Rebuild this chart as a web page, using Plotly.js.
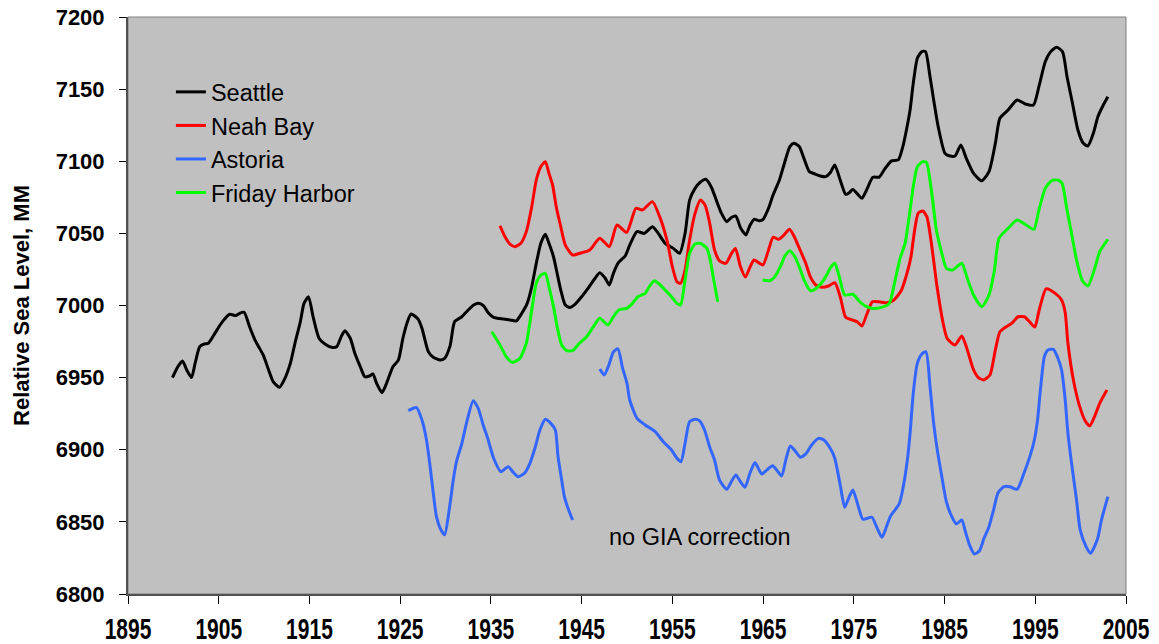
<!DOCTYPE html>
<html>
<head>
<meta charset="utf-8">
<script src="https://cdn.plot.ly/plotly-3.0.1.min.js"></script>
<style>html,body{margin:0;padding:0;background:#fff;}#chart{width:1159px;height:644px;}</style>
</head>
<body>
<div id="chart"></div>
<script>
// ---- Data ----
const seattleYears = [1899.9,1900.5,1901.0,1901.5,1902.0,1902.4,1902.9,1903.4,1903.85,1904.4,1905.0,1905.5,1906.2,1906.9,1907.3,1907.8,1908.4,1909.0,1909.4,1909.9,1910.5,1911.0,1911.7,1912.3,1912.9,1913.4,1914.0,1914.4,1914.9,1915.4,1916.05,1916.7,1917.45,1918.0,1918.5,1918.9,1919.5,1920.0,1920.6,1921.1,1921.6,1922.0,1922.4,1923.0,1923.5,1924.2,1924.8,1925.3,1925.8,1926.2,1927.0,1927.4,1928.1,1928.65,1929.4,1929.9,1930.5,1931.0,1931.8,1932.5,1933.1,1933.6,1934.2,1934.7,1935.3,1936.4,1937.1,1937.8,1938.4,1939.0,1939.5,1940.0,1940.5,1941.0,1941.4,1941.9,1942.3,1942.7,1943.2,1943.7,1944.3,1945.0,1945.7,1946.4,1947.0,1947.6,1948.05,1948.5,1949.05,1949.8,1950.3,1951.1,1951.9,1952.8,1953.45,1954.2,1955.1,1955.8,1956.4,1956.9,1957.5,1958.0,1958.7,1959.3,1959.9,1960.4,1961.0,1961.5,1962.0,1962.5,1963.1,1963.55,1964.0,1964.6,1965.0,1965.6,1966.1,1966.8,1967.4,1967.95,1968.4,1969.0,1969.5,1970.1,1970.7,1971.3,1971.9,1972.4,1972.9,1973.5,1974.1,1974.5,1974.9,1975.5,1975.9,1976.4,1977.1,1977.8,1978.4,1979.15,1979.9,1980.4,1980.8,1981.2,1981.55,1982.0,1982.5,1982.9,1983.4,1983.8,1984.3,1985.05,1985.6,1986.15,1986.8,1987.4,1988.2,1989.1,1989.9,1990.6,1991.1,1992.0,1993.0,1993.9,1994.8,1995.4,1996.1,1996.7,1997.35,1998.0,1998.5,1999.1,1999.7,2000.3,2000.8,2001.4,2001.9,2002.5,2003.0];
const seattleLevel = [6950,6957.6,6961.5,6955,6950,6960,6971.4,6973.3,6973.8,6978.9,6985,6989.5,6993.9,6993,6994.6,6995.3,6985.3,6976,6971.4,6965.7,6955.3,6947.2,6943.3,6949.5,6960,6973.8,6988.8,7001.5,7006,6992.2,6977.3,6973.3,6971,6971.4,6978.4,6982.5,6977.3,6966.9,6957.6,6950.6,6951.1,6952.5,6946.1,6939.6,6946.1,6957.6,6962.2,6977.3,6988.8,6994.1,6990.4,6984.2,6968,6964.1,6962.2,6963.4,6972,6988.8,6992.2,6996.9,7000.3,7001.5,6999.7,6995,6991.8,6990.6,6990,6989.3,6994.6,7001.5,7013,7029.2,7043.1,7049.4,7043.1,7033.8,7022.3,7010.7,7000.3,6998.7,7001,7006.1,7011.9,7018.2,7022.7,7018.9,7014.2,7022.3,7029.7,7034.3,7041.9,7051.2,7050,7054.6,7050,7043.1,7039.6,7036.2,7050,7073.1,7081.2,7085.1,7087.5,7082,7072,7064,7058.1,7061,7062,7054,7048.9,7055.5,7059.7,7058.8,7059.7,7067.4,7076.6,7087,7099.7,7110.1,7112.4,7110.1,7102,7092.8,7091.2,7089.8,7089.3,7092,7097.4,7087,7077.1,7078.2,7080.5,7076.6,7074.3,7080,7088.9,7089,7094.5,7100.3,7100.9,7110.1,7121.7,7135.5,7154,7171.4,7176,7176,7158.6,7142.5,7124,7105.5,7103.6,7103.6,7111.3,7102,7091.6,7086.5,7092.8,7112.4,7129.8,7135.5,7142.5,7139.7,7139,7151.7,7169,7176,7179,7176,7158.6,7140.2,7121.7,7112.4,7110.6,7119.4,7130.9,7139,7144.7];

const neahYears = [1936.0,1936.55,1937.1,1937.65,1938.3,1938.9,1939.5,1940.0,1940.5,1941.0,1941.4,1941.8,1942.2,1942.7,1943.2,1944.0,1945.0,1945.9,1947.0,1948.05,1948.9,1949.96,1950.99,1951.7,1952.8,1953.6,1954.4,1955.0,1955.5,1955.9,1956.4,1956.9,1957.5,1958.1,1958.6,1959.1,1959.65,1960.2,1960.9,1961.5,1961.95,1962.5,1963.05,1963.55,1964.0,1964.6,1965.0,1965.6,1966.1,1966.7,1967.3,1967.9,1968.4,1969.0,1969.7,1970.2,1970.8,1971.5,1972.2,1972.9,1973.5,1974.1,1974.8,1975.35,1975.9,1976.4,1977.05,1977.8,1978.6,1979.35,1980.2,1980.8,1981.3,1981.65,1982.1,1982.6,1983.05,1983.6,1984.15,1984.9,1985.3,1986.15,1986.9,1987.4,1988.2,1988.7,1989.3,1990.0,1990.6,1991.1,1991.7,1992.4,1993.1,1993.8,1994.4,1994.95,1995.4,1996.2,1997.2,1997.9,1998.3,1998.6,1999.2,1999.9,2000.5,2001.0,2001.6,2002.1,2002.9];
const neahLevel = [7055.3,7047.7,7042.6,7040.8,7043.1,7051.2,7068.5,7087,7096.2,7099.7,7091.6,7083.5,7068.5,7054.6,7041.9,7035,7036.6,7038.5,7046.6,7040.8,7055.8,7050.7,7067.4,7066.2,7072,7061.6,7045.4,7026.9,7016.5,7015.4,7024.6,7045.4,7063.9,7073.1,7069.7,7057.5,7038.5,7031,7029.3,7036,7039.6,7027,7019.7,7026.5,7031.5,7029.3,7028.1,7038.5,7047.3,7045.9,7048.9,7052.8,7048.2,7039.6,7029.3,7020,7014.2,7012.6,7013.5,7015.8,7006.1,6991.8,6990,6988.8,6985.8,6993.4,7002.6,7002.6,7001.9,7003.5,7010,7021,7033.8,7050,7064,7065.5,7061.6,7040.8,7014,6986,6977,6972.6,6978.9,6971.4,6955.3,6950.2,6948.4,6951.8,6969.2,6981.8,6984.9,6987.6,6992.2,6992.2,6988.5,6985,6996,7011.5,7008.4,7003.8,6995,6973.8,6948.4,6929.9,6920.1,6916.5,6924.1,6932.2,6941.4];

const astoriaYears = [1925.9,1926.8,1927.4,1927.9,1928.3,1928.65,1929.0,1929.5,1929.9,1930.4,1930.85,1931.2,1931.8,1932.3,1933.05,1933.6,1934.15,1934.7,1935.3,1936.1,1936.9,1937.5,1938.0,1938.75,1939.3,1939.85,1940.4,1941.0,1941.6,1942.1,1942.4,1942.8,1943.1,1943.5,1944.0,1945.5,1947.0,1947.5,1948.0,1948.5,1949.0,1949.5,1950.0,1950.3,1951.1,1952.0,1953.1,1954.0,1954.9,1955.5,1955.95,1956.4,1956.9,1957.5,1958.0,1958.55,1959.1,1959.65,1960.2,1961.0,1961.5,1962.0,1962.5,1963.0,1963.55,1964.1,1964.85,1965.4,1966.05,1966.5,1967.05,1967.5,1968.0,1968.6,1969.1,1969.7,1970.35,1971.1,1971.7,1972.4,1972.9,1973.5,1974.0,1974.5,1974.9,1975.5,1976.0,1977.0,1977.5,1978.1,1978.6,1979.05,1980.0,1980.45,1980.9,1981.2,1981.55,1982.0,1982.5,1982.95,1983.4,1983.8,1984.2,1984.7,1985.2,1985.8,1986.3,1986.9,1987.3,1987.75,1988.3,1988.85,1989.35,1989.9,1990.4,1990.9,1991.55,1992.2,1993.0,1993.75,1994.4,1994.9,1995.25,1995.6,1996.0,1996.4,1997.0,1997.5,1997.9,1998.3,1998.6,1999.1,1999.55,1999.95,2000.6,2001.1,2001.85,2002.3,2003.0];
const astoriaLevel = [6927.1,6929.2,6920.6,6906.8,6888.3,6869.8,6853.6,6844.4,6841,6858.2,6879,6891.7,6904.5,6918.3,6934,6928.7,6917.2,6906.8,6894.1,6884.8,6888.3,6884.1,6881.3,6884.1,6890.6,6901,6913.7,6921.1,6918.3,6913.7,6895.2,6879,6867.5,6859.4,6851.3,null,6956,6951.8,6958.7,6967.8,6970,6957,6946,6934.5,6921.8,6917.2,6912.5,6905.6,6899.8,6894.1,6891.7,6904.5,6919.5,6921.1,6920,6913.7,6902.1,6892.9,6879,6872.6,6877.9,6882.5,6877.9,6874,6883.7,6891.1,6883.2,6885.9,6888.9,6885.9,6881.8,6892.9,6902.6,6898.7,6894.8,6897.1,6903.3,6907.9,6906.8,6901,6894.1,6875.6,6860.1,6867.5,6872.1,6860.5,6851.8,6853.2,6846.7,6839.3,6846.7,6854.1,6862.4,6874.4,6892.9,6911.4,6939.1,6959.9,6966.4,6968,6943.7,6918.3,6899.8,6881.3,6864,6853.6,6848.5,6851.3,6843.2,6834,6827.7,6830,6838.6,6846.7,6858.2,6870.2,6874.4,6874.4,6872.6,6883.7,6895.2,6906.8,6920.6,6943.7,6964.5,6969.2,6969.6,6963.4,6955.3,6934.5,6911.4,6885.9,6865.2,6844.4,6832.8,6828.2,6837.9,6851.3,6867.5];

const fridayYears = [1935.1,1936.0,1936.7,1937.4,1938.2,1938.9,1939.5,1940.0,1940.5,1941.0,1941.4,1941.9,1942.3,1942.8,1943.35,1944.0,1944.75,1945.55,1946.3,1947.0,1947.9,1948.5,1949.1,1949.95,1950.6,1951.2,1952.0,1952.45,1953.0,1953.55,1954.2,1954.8,1955.5,1955.9,1956.4,1956.9,1957.5,1958.1,1958.8,1959.1,1959.5,1960.0,1962.5,1964.95,1965.75,1966.3,1966.9,1967.4,1967.95,1968.5,1969.05,1969.6,1970.2,1970.7,1971.35,1971.9,1972.5,1972.9,1973.4,1974.0,1974.9,1975.65,1976.4,1977.1,1978.05,1978.9,1979.5,1980.1,1980.65,1981.2,1981.55,1982.0,1982.6,1983.0,1983.6,1984.1,1984.7,1985.2,1985.9,1986.9,1987.5,1988.2,1989.1,1989.9,1990.5,1991.0,1992.0,1993.0,1994.0,1994.85,1995.4,1996.1,1996.8,1997.5,1997.95,1998.5,1999.0,1999.55,2000.2,2000.8,2001.5,2002.1,2003.0];
const fridayLevel = [6981.8,6972.6,6964.5,6960.5,6963.5,6973.8,6996.9,7015.4,7021.1,7022.3,7013,6999.2,6985.3,6972.6,6968.7,6968.7,6973.8,6978.4,6985.3,6991.1,6986.5,6992.2,6996.9,6998,7001.5,7006.1,7008.4,7013,7017.2,7014.9,7010.7,7006.8,7001.5,7000.3,7017.7,7036.2,7042.6,7043.1,7039.6,7033.8,7020,7002.6,null,7017.7,7017.2,7020,7026.9,7034.3,7038,7033.8,7025.8,7016.5,7010.3,7011.2,7014.9,7020,7026.9,7029.3,7020,7007.3,7007.8,7002.6,6999.2,6998,6998.7,7001.3,7016,7032.7,7043.1,7066.2,7082.4,7096.2,7099.7,7099.2,7077.5,7052.3,7036.2,7025.8,7024.6,7029.3,7018.9,7007.3,6999.2,7007.3,7024.6,7046.6,7053.5,7059.3,7055.8,7052.8,7066.2,7081.2,7086.5,7087,7084.7,7066.2,7050,7031.5,7017.2,7013.5,7024.6,7037.3,7045.9];

const seriesNames = ["Seattle", "Neah Bay", "Astoria", "Friday Harbor"];
const xTickVals = [1895,1905,1915,1925,1935,1945,1955,1965,1975,1985,1995,2005];
const yTickVals = [6800,6850,6900,6950,7000,7050,7100,7150,7200];
const noteText = "no GIA correction";
const noteYear = 1947.8, noteLevel = 6839.5;

// ---- Styling ----
const colors = ["#000000", "#FF0000", "#3366FF", "#00FF00"];
const base = "Liberation Sans, Arial, sans-serif";

function mk(x, y, i) {
  return {
    x: x, y: y, name: seriesNames[i], type: "scatter", mode: "lines",
    connectgaps: false,
    line: {color: colors[i], width: 3, shape: "spline", smoothing: 0.6}
  };
}

const traces = [
  mk(seattleYears, seattleLevel, 0),
  mk(neahYears, neahLevel, 1),
  mk(astoriaYears, astoriaLevel, 2),
  mk(fridayYears, fridayLevel, 3)
];

const layout = {
  width: 1159, height: 644,
  margin: {l: 128, r: 33, t: 17, b: 50, pad: 0},
  paper_bgcolor: "#ffffff",
  plot_bgcolor: "#C0C0C0",
  showlegend: true,
  legend: {
    x: 0.043, y: 0.908, xanchor: "left", yanchor: "top",
    bgcolor: "rgba(0,0,0,0)", borderwidth: 0,
    font: {family: base, size: 23.5, color: "#000"},
    traceorder: "normal"
  },
  xaxis: {
    range: [1895, 2005], tickvals: xTickVals, ticktext: xTickVals.map(String),
    showgrid: false, zeroline: false,
    showline: true, linecolor: "#505050", linewidth: 2,
    ticks: "outside", ticklen: 8, tickwidth: 1, tickcolor: "#000",
    tickfont: {family: base, size: 21, color: "#000", weight: "bold"},
    ticklabelstandoff: 10,
    fixedrange: true
  },
  yaxis: {
    range: [6800, 7200], tickvals: yTickVals, ticktext: yTickVals.map(String),
    showgrid: false, zeroline: false,
    showline: true, linecolor: "#505050", linewidth: 2,
    ticks: "outside", ticklen: 7, tickwidth: 1, tickcolor: "#000",
    tickfont: {family: base, size: 22, color: "#000", weight: "bold"},
    ticklabelstandoff: 10,
    title: {text: "Relative Sea Level, MM", font: {family: base, size: 22, color: "#000", weight: "bold"}, standoff: 20},
    fixedrange: true
  },
  shapes: [{
    type: "rect", xref: "paper", yref: "paper", x0: 0, x1: 1, y0: 0, y1: 1,
    line: {color: "#808080", width: 1}, fillcolor: "rgba(0,0,0,0)", layer: "below"
  }],
  annotations: [{
    x: noteYear, y: noteLevel, xref: "x", yref: "y", xanchor: "left", yanchor: "middle",
    text: noteText, showarrow: false,
    font: {family: base, size: 23.5, color: "#000"}
  }]
};

Plotly.newPlot("chart", traces, layout, {displayModeBar: false, staticPlot: true}).then(function () {
  // The reference's year labels are drawn tall and narrow: stretch them vertically about their baseline.
  try {
    document.querySelectorAll("#chart .xtick text").forEach(function (t) {
      var b = t.getBBox();
      var by = b.y + b.height * 0.81;
      var tr = t.getAttribute("transform") || "";
      t.setAttribute("transform", tr + " translate(0," + by + ") scale(1,1.43) translate(0," + (-by) + ")");
    });
  } catch (e) {}
});
</script>
</body>
</html>
